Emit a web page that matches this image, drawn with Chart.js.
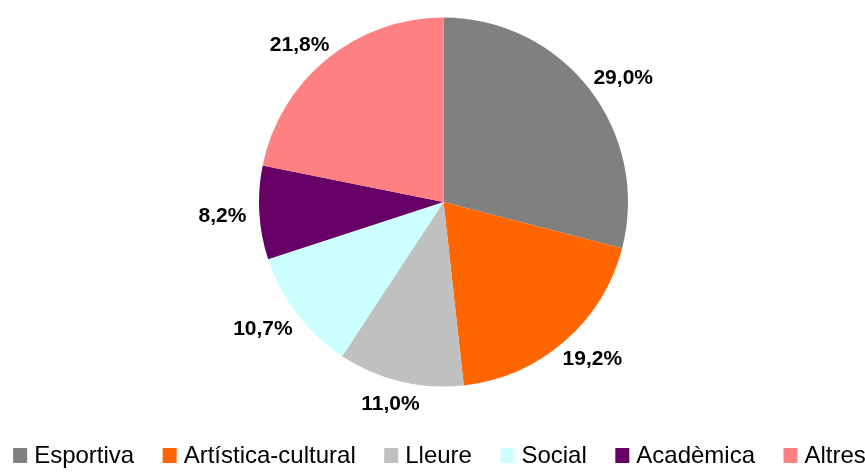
<!DOCTYPE html>
<html>
<head>
<meta charset="utf-8">
<script src="https://cdn.jsdelivr.net/npm/chart.js@4.4.0/dist/chart.umd.min.js"></script>
<style>
  html, body { margin: 0; padding: 0; background: #fff; }
  #wrap { width: 865px; height: 473px; }
</style>
</head>
<body>
<div id="wrap"><canvas id="pieChart" width="865" height="473"></canvas></div>
<script>
// activity types and their share (%)
const categories = ['Esportiva', 'Artística-cultural', 'Lleure', 'Social', 'Acadèmica', 'Altres'];
const shares = [29.0, 19.2, 11.0, 10.7, 8.2, 21.8];
const sliceColors = ['#808080', '#FF6600', '#C0C0C0', '#CCFFFF', '#660066', '#FF8080'];

const FONT = '"Liberation Sans", Arial, sans-serif';

// percentage labels outside each slice
const outsideLabels = {
  id: 'outsideLabels',
  afterDatasetsDraw(chart) {
    const ctx = chart.ctx;
    const meta = chart.getDatasetMeta(0);
    ctx.save();
    ctx.font = 'bold 21px ' + FONT;
    ctx.fillStyle = '#000';
    ctx.textAlign = 'center';
    ctx.textBaseline = 'middle';
    meta.data.forEach((arc, i) => {
      const mid = (arc.startAngle + arc.endAngle) / 2;
      const ux = Math.cos(mid), uy = Math.sin(mid);
      const txt = shares[i].toFixed(1).replace('.', ',') + '%';
      const w = ctx.measureText(txt).width;
      const h = 16;
      const r = arc.outerRadius + 13;
      const x = arc.x + ux * r + ux * w / 2;
      const y = arc.y + uy * r + uy * h / 2 + 2;
      ctx.fillText(txt, x, y);
    });
    ctx.restore();
  }
};

// bottom legend, one row, centred
const bottomLegend = {
  id: 'bottomLegend',
  afterDraw(chart) {
    const ctx = chart.ctx;
    const box = 14, gap = 7, spacing = 28.5;
    ctx.save();
    ctx.font = '24px ' + FONT;
    const widths = chart.data.labels.map(l => ctx.measureText(l).width);
    const total = widths.reduce((a, b) => a + b, 0) + widths.length * (box + gap) + (widths.length - 1) * spacing;
    let x = (chart.width - total) / 2 + 7;
    const yBox = 448;
    const yText = 463;
    chart.data.labels.forEach((l, i) => {
      ctx.fillStyle = sliceColors[i];
      ctx.fillRect(x, yBox, box, box + 1);
      ctx.fillStyle = '#000';
      ctx.textBaseline = 'alphabetic';
      ctx.fillText(l, x + box + gap, yText);
      x += box + gap + widths[i] + spacing;
    });
    ctx.restore();
  }
};

new Chart(document.getElementById('pieChart').getContext('2d'), {
  type: 'pie',
  data: {
    labels: categories,
    datasets: [{
      data: shares,
      backgroundColor: sliceColors,
      borderWidth: 0
    }]
  },
  options: {
    responsive: false,
    animation: false,
    layout: { padding: { top: 17.5, bottom: 86.5, left: 22, right: 0 } },
    plugins: {
      legend: { display: false },
      tooltip: { enabled: false }
    }
  },
  plugins: [outsideLabels, bottomLegend]
});
</script>
</body>
</html>
